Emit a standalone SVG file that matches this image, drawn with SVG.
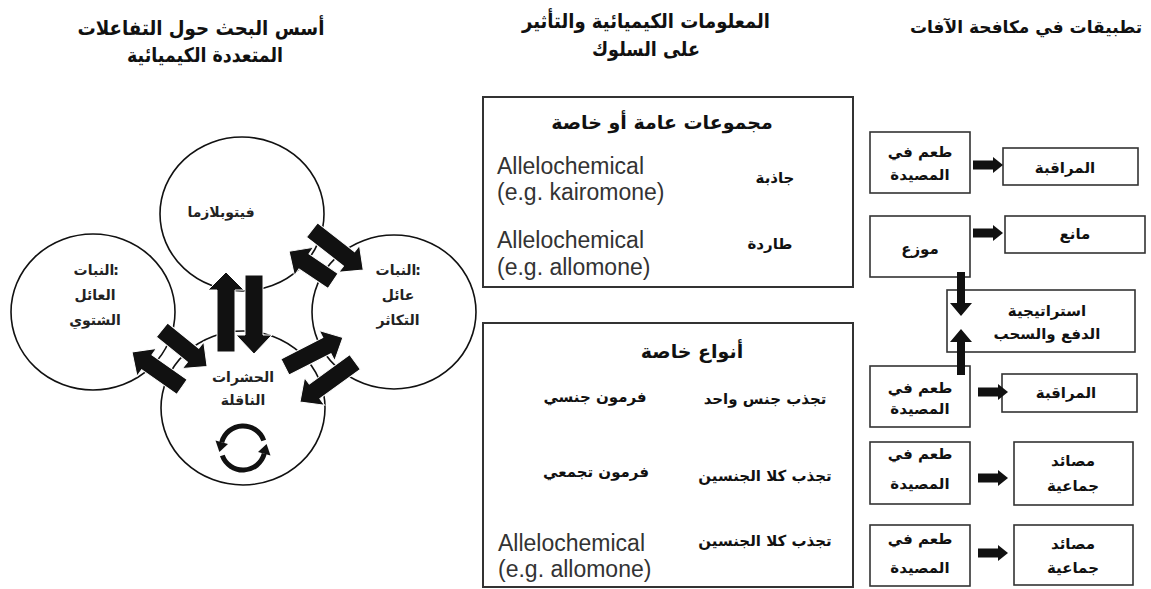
<svg xmlns="http://www.w3.org/2000/svg" width="1151" height="589" viewBox="0 0 1151 589">
<defs>
<style>
.ar{font-family:"DejaVu Sans","Noto Sans",sans-serif;fill:#111;text-anchor:middle}
.hd{font-size:20px;font-weight:bold}
.tt{font-size:19px;font-weight:bold}
.lb{font-size:15px;font-weight:bold}
.cl{font-size:14px;font-weight:bold;fill:#222}
.en{font-family:"Liberation Sans",Arial,sans-serif;font-size:23px;fill:#333}
.circ{fill:none;stroke:#111;stroke-width:1.6}
.box{fill:#fff;stroke:#333;stroke-width:2}
.sbox{fill:#fff;stroke:#333;stroke-width:1.6}
.blk{fill:#111;stroke:#fff;stroke-width:1}
</style>
</defs>
<rect width="1151" height="589" fill="#fff"/>

<!-- headers -->
<g id="header-left">
<text class="ar hd" x="201" y="35" textLength="247" lengthAdjust="spacingAndGlyphs">أسس البحث حول التفاعلات</text>
<text class="ar hd" x="205" y="62" textLength="156" lengthAdjust="spacingAndGlyphs">المتعددة الكيميائية</text>
</g>
<g id="header-middle">
<text class="ar hd" x="646" y="28" textLength="248" lengthAdjust="spacingAndGlyphs">المعلومات الكيميائية والتأثير</text>
<text class="ar hd" x="646" y="56" textLength="108" lengthAdjust="spacingAndGlyphs">على السلوك</text>
</g>
<g id="header-right">
<text class="ar" x="1026" y="33" style="font-size:17px;font-weight:bold">تطبيقات في مكافحة الآفات</text>
</g>

<!-- circles -->
<g id="circle-phyto">
<ellipse class="circ" cx="242" cy="214" rx="82" ry="77"/>
<text class="ar cl" x="221" y="217">فيتوبلازما</text>
</g>
<g id="circle-winter-host">
<ellipse class="circ" cx="93" cy="312" rx="82" ry="78"/>
<text class="ar cl" x="94" y="275">النبات</text>
<text class="ar cl" x="116" y="275">:</text>
<text class="ar cl" x="95" y="300">العائل</text>
<text class="ar cl" x="95" y="325">الشتوي</text>
</g>
<g id="circle-breeding-host">
<ellipse class="circ" cx="394" cy="312" rx="82" ry="77"/>
<text class="ar cl" x="396" y="275">النبات</text>
<text class="ar cl" x="418" y="275">:</text>
<text class="ar cl" x="398" y="300">عائل</text>
<text class="ar cl" x="398" y="325">التكاثر</text>
</g>
<g id="circle-vector">
<ellipse class="circ" cx="243" cy="408" rx="82" ry="77"/>
<text class="ar cl" x="243" y="382">الحشرات</text>
<text class="ar cl" x="243" y="405">الناقلة</text>
<g fill="none" stroke="#111" stroke-width="5">
<path d="M263.7,440.5 A22,22 0 0 0 221.75,442.3"/>
<path d="M222.3,455.5 A22,22 0 0 0 264.25,453.7"/>
</g>
<polygon fill="#111" points="228,444 219.4,452 215.5,440.6"/>
<polygon fill="#111" points="258,452 266.6,444 270.5,455.4"/>
</g>

<!-- block arrows between circles -->
<g id="connectors-circles">
<polygon class="blk" points="217,352 217,290 208,290 226,272 244,290 235,290 235,352"/>
<polygon class="blk" points="245,275 263,275 263,335 272,335 254,354 236,335 245,335"/>
<g transform="translate(312,230) rotate(38)"><polygon class="blk" points="0,-9 47,-9 47,-17 65,0 47,17 47,9 0,9"/></g>
<g transform="translate(333,281) rotate(214)"><polygon class="blk" points="0,-9 35,-9 35,-17 53,0 35,17 35,9 0,9"/></g>
<g transform="translate(162,330) rotate(39)"><polygon class="blk" points="0,-9 40,-9 40,-17 58,0 40,17 40,9 0,9"/></g>
<g transform="translate(182,387) rotate(215)"><polygon class="blk" points="0,-9 43,-9 43,-17 61,0 43,17 43,9 0,9"/></g>
<g transform="translate(285,367) rotate(-27)"><polygon class="blk" points="0,-9 47,-9 47,-17 65,0 47,17 47,9 0,9"/></g>
<g transform="translate(355,362) rotate(144)"><polygon class="blk" points="0,-9 50,-9 50,-17 68,0 50,17 50,9 0,9"/></g>
</g>

<!-- middle boxes -->
<g id="box-groups">
<rect class="box" x="483" y="97" width="370" height="190"/>
<text class="ar tt" x="662" y="129">مجموعات عامة أو خاصة</text>
<text class="en" x="497" y="174">Allelochemical</text>
<text class="en" x="497" y="200">(e.g. kairomone)</text>
<text class="ar lb" x="775" y="183">جاذبة</text>
<text class="en" x="497" y="248">Allelochemical</text>
<text class="en" x="497" y="275">(e.g. allomone)</text>
<text class="ar lb" x="770" y="249">طاردة</text>
</g>
<g id="box-types">
<rect class="box" x="483" y="323" width="370" height="264"/>
<text class="ar tt" x="692" y="358">أنواع خاصة</text>
<text class="ar lb" x="765" y="404">تجذب جنس واحد</text>
<text class="ar lb" x="595" y="402">فرمون جنسي</text>
<text class="ar lb" x="765" y="481">تجذب كلا الجنسين</text>
<text class="ar lb" x="596" y="477">فرمون تجمعي</text>
<text class="ar lb" x="765" y="546">تجذب كلا الجنسين</text>
<text class="en" x="498" y="551">Allelochemical</text>
<text class="en" x="498" y="577">(e.g. allomone)</text>
</g>

<!-- right column nodes -->
<g id="bait-1">
<rect class="sbox" x="870" y="132" width="100" height="61"/>
<text class="ar lb" x="920" y="157">طعم في</text>
<text class="ar lb" x="920" y="180">المصيدة</text>
</g>
<g id="monitoring-1">
<rect class="sbox" x="1003" y="148" width="135" height="37"/>
<text class="ar lb" x="1065" y="173">المراقبة</text>
</g>
<g id="dispenser">
<rect class="sbox" x="870" y="216" width="100" height="61"/>
<text class="ar lb" x="920" y="254">موزع</text>
</g>
<g id="repellent">
<rect class="sbox" x="1005" y="216" width="140" height="37"/>
<text class="ar lb" x="1075" y="239">مانع</text>
</g>
<g id="push-pull">
<rect class="sbox" x="947" y="290" width="188" height="62"/>
<text class="ar lb" x="1047" y="316">استراتيجية</text>
<text class="ar lb" x="1047" y="339">الدفع والسحب</text>
</g>
<g id="bait-2">
<rect class="sbox" x="870" y="366" width="100" height="61"/>
<text class="ar lb" x="920" y="393">طعم في</text>
<text class="ar lb" x="920" y="414">المصيدة</text>
</g>
<g id="monitoring-2">
<rect class="sbox" x="1002" y="374" width="135" height="38"/>
<text class="ar lb" x="1066" y="398">المراقبة</text>
</g>
<g id="bait-3">
<rect class="sbox" x="870" y="442" width="100" height="62"/>
<text class="ar lb" x="920" y="459">طعم في</text>
<text class="ar lb" x="920" y="489">المصيدة</text>
</g>
<g id="mass-trap-1">
<rect class="sbox" x="1014" y="442" width="119" height="63"/>
<text class="ar lb" x="1073" y="466">مصائد</text>
<text class="ar lb" x="1073" y="491">جماعية</text>
</g>
<g id="bait-4">
<rect class="sbox" x="870" y="525" width="100" height="61"/>
<text class="ar lb" x="920" y="544">طعم في</text>
<text class="ar lb" x="920" y="573">المصيدة</text>
</g>
<g id="mass-trap-2">
<rect class="sbox" x="1014" y="525" width="119" height="60"/>
<text class="ar lb" x="1073" y="549">مصائد</text>
<text class="ar lb" x="1073" y="573">جماعية</text>
</g>

<!-- right column connectors -->
<g id="connectors-right" fill="#111">
<polygon points="973,160.5 993,160.5 993,157 1003,165 993,173 993,169.5 973,169.5"/>
<polygon points="973,228.5 993,228.5 993,225 1003,233 993,241 993,237.5 973,237.5"/>
<polygon points="978,387.5 998,387.5 998,384 1008,392 998,400 998,396.5 978,396.5"/>
<polygon points="978,473.5 998,473.5 998,470 1008,478 998,486 998,482.5 978,482.5"/>
<polygon points="978,548.5 998,548.5 998,545 1008,553 998,561 998,557.5 978,557.5"/>
<polygon points="957,272 965,272 965,303 972,303 961,316 950,303 957,303"/>
<polygon points="957,375 965,375 965,342 972,342 961,329 950,342 957,342"/>
</g>
</svg>
